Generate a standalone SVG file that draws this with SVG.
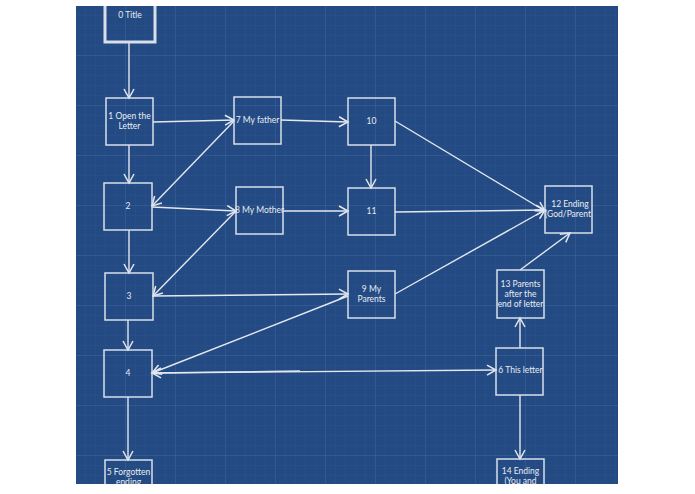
<svg xmlns="http://www.w3.org/2000/svg" width="695" height="494" viewBox="0 0 695 494">
<defs>
<pattern id="g" width="10" height="10" patternUnits="userSpaceOnUse" x="76" y="6"><path d="M10 0V10H0" fill="none" stroke="#2f5690" stroke-width="0.6"/></pattern>
<pattern id="G" width="50" height="50" patternUnits="userSpaceOnUse" x="76" y="6"><path d="M50 0V50H0" fill="none" stroke="#3a619a" stroke-width="1"/></pattern>
<marker id="a" markerWidth="12" markerHeight="12" refX="10" refY="6" orient="auto" markerUnits="userSpaceOnUse"><path d="M1 1L10 6L1 11" fill="none" stroke="#e4e8f0" stroke-width="1.5"/></marker>
<clipPath id="c"><rect x="76" y="6" width="542" height="478"/></clipPath>
</defs>
<style>
.n rect{fill:none;stroke:#d8dfeb;stroke-width:1.5}
text{font-family:Lato,"Liberation Sans",sans-serif;font-size:8.5px;fill:#e8ecf3;text-anchor:middle}
.e line{stroke:#e4e8f0;stroke-width:1.4;marker-end:url(#a)}
</style>
<rect width="695" height="494" fill="#fff"/>
<g clip-path="url(#c)">
<rect x="76" y="6" width="542" height="478" fill="#234a82"/>
<rect x="76" y="6" width="542" height="478" fill="url(#g)"/>
<rect x="76" y="6" width="542" height="478" fill="url(#G)"/>
<g class="e">
<line x1="129" y1="42" x2="129" y2="98"/>
<line x1="153" y1="122" x2="234" y2="120"/>
<line x1="281" y1="120" x2="348" y2="122"/>
<line x1="129" y1="145" x2="129" y2="183"/>
<line x1="234" y1="121" x2="152" y2="206"/>
<line x1="371" y1="145" x2="371" y2="188"/>
<line x1="395" y1="121" x2="545" y2="211"/>
<line x1="152" y1="207" x2="236" y2="211"/>
<line x1="283" y1="211" x2="348" y2="211"/>
<line x1="395" y1="212" x2="545" y2="210"/>
<line x1="236" y1="211" x2="153" y2="296"/>
<line x1="129" y1="230" x2="129" y2="273"/>
<line x1="153" y1="296" x2="348" y2="294"/>
<line x1="395" y1="294" x2="545" y2="210"/>
<line x1="348" y1="296" x2="152" y2="373"/>
<line x1="128" y1="320" x2="128" y2="350"/>
<line x1="300" y1="371" x2="152" y2="373"/>
<line x1="152" y1="373" x2="496" y2="370"/>
<line x1="520" y1="348" x2="520" y2="318"/>
<line x1="520" y1="270" x2="570" y2="233"/>
<line x1="520" y1="395" x2="520" y2="459"/>
<line x1="128" y1="397" x2="128" y2="460"/>
</g>
<g id="n0" class="n"><rect x="105" y="-5" width="50" height="47" style="stroke-width:3"/><text x="130" y="18">0 Title</text></g>
<g id="n1" class="n"><rect x="106" y="98" width="47" height="47"/><text x="129.5" y="119">1 Open the</text><text x="129.5" y="129">Letter</text></g>
<g id="n7" class="n"><rect x="234" y="97" width="47" height="47"/><text x="257.5" y="123">7 My father</text></g>
<g id="n10" class="n"><rect x="348" y="98" width="47" height="47"/><text x="371.5" y="124">10</text></g>
<g id="n2" class="n"><rect x="104" y="183" width="48" height="47"/><text x="128" y="209">2</text></g>
<g id="n8" class="n"><rect x="236" y="187" width="47" height="47"/><text x="259.5" y="213">8 My Mother</text></g>
<g id="n11" class="n"><rect x="348" y="188" width="47" height="47"/><text x="371.5" y="214">11</text></g>
<g id="n12" class="n"><rect x="545" y="186" width="47" height="47"/><text x="570" y="207">12 Ending</text><text x="568" y="217">(God/Parent</text></g>
<g id="n3" class="n"><rect x="105" y="273" width="48" height="47"/><text x="129" y="299">3</text></g>
<g id="n9" class="n"><rect x="348" y="271" width="47" height="47"/><text x="371.5" y="292">9 My</text><text x="371.5" y="302">Parents</text></g>
<g id="n13" class="n"><rect x="497" y="270" width="47" height="48"/><text x="520.5" y="287">13 Parents</text><text x="520.5" y="297">after the</text><text x="520.5" y="307">end of letter</text></g>
<g id="n4" class="n"><rect x="104" y="350" width="48" height="47"/><text x="128" y="376">4</text></g>
<g id="n6" class="n"><rect x="496" y="348" width="47" height="47"/><text x="520.5" y="373">6 This letter</text></g>
<g id="n5" class="n"><rect x="105" y="460" width="47" height="47"/><text x="128.5" y="475">5 Forgotten</text><text x="128.5" y="485">ending</text></g>
<g id="n14" class="n"><rect x="497" y="459" width="47" height="47"/><text x="520.5" y="474">14 Ending</text><text x="520.5" y="484">(You and</text></g>
</g>
</svg>
